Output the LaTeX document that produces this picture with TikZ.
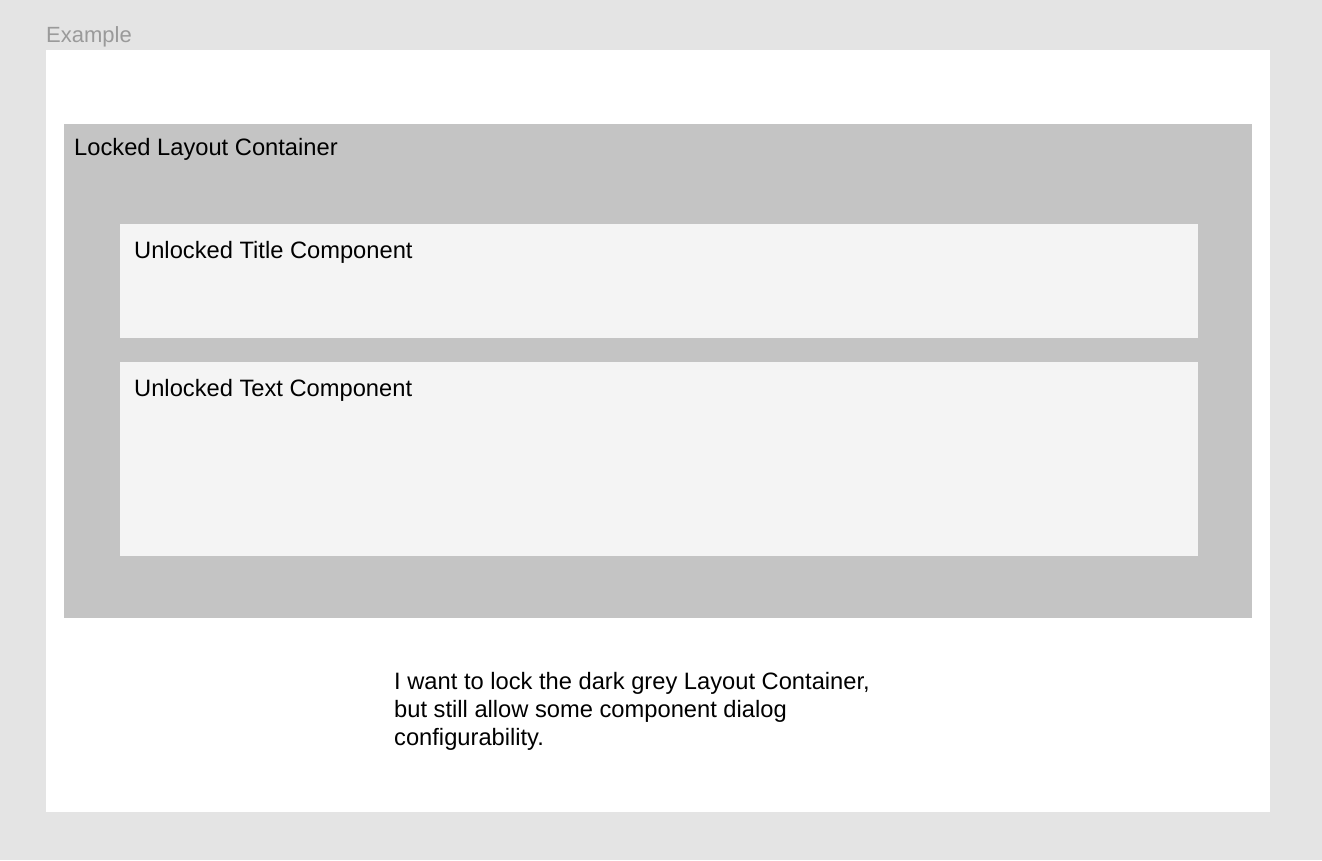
\documentclass[tikz,border=0pt]{standalone}
\usepackage{fontspec}
\setmainfont{Liberation Sans}
\usepackage{tikz}
\usetikzlibrary{positioning}

\definecolor{pagegrey}{HTML}{E4E4E4}
\definecolor{lockgrey}{HTML}{C4C4C4}
\definecolor{compgrey}{HTML}{F4F4F4}
\definecolor{capgrey}{HTML}{9A9A9A}

\tikzset{
  panel/.style={anchor=north west, inner sep=0pt, outer sep=0pt},
  caption/.style={anchor=base west, inner sep=0pt, font=\fontsize{23.7}{28}\selectfont},
}

\begin{document}
\begin{tikzpicture}[x=1pt,y=-1pt]
      \fill[pagegrey] (0,0) rectangle (1322,860);
      \useasboundingbox (0,0) rectangle (1322,860);

      \node [anchor=base west, inner sep=0pt, text=capgrey, font=\fontsize{22}{26}\selectfont] (example) at (46,42) {Example};
      \node [panel, fill=white, minimum width=1224, minimum height=762] (frame) at (46,50) {};
      \node [panel, fill=lockgrey, minimum width=1188, minimum height=494] (container) at (64,124) {};
      \node [panel, fill=compgrey, minimum width=1078, minimum height=114] (title) at (120,224) {};
      \node [panel, fill=compgrey, minimum width=1078, minimum height=194] (textcomp) at (120,362) {};

      \node [caption] (containerlabel) at (74,155) {Locked Layout Container};
      \node [caption] (titlelabel) at (134,258) {Unlocked Title Component};
      \node [caption] (textlabel) at (134,396) {Unlocked Text Component};

      \node [caption, anchor=north west, align=left, yshift=-5] (note) at (394,667) {I want to lock the dark grey Layout Container,\\but still allow some component dialog\\configurability.};
    \end{tikzpicture}
\end{document}
